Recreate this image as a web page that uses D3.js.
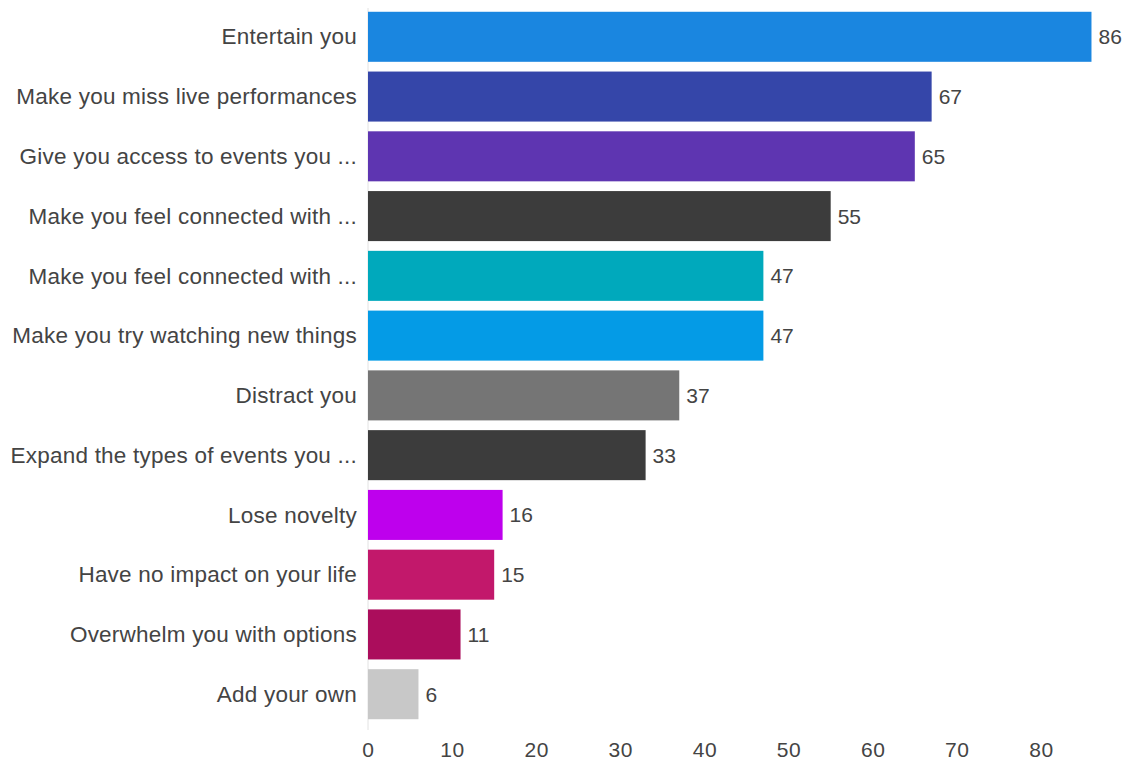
<!DOCTYPE html>
<html>
<head>
<meta charset="utf-8">
<script src="https://cdn.jsdelivr.net/npm/d3@7"></script>
<style>
  html, body { margin: 0; padding: 0; background: #fff; }
  svg text { font-family: "Liberation Sans", Arial, sans-serif; fill: #444; }
</style>
</head>
<body>
<svg id="chart" width="1127" height="762"></svg>
<script>
/* ---------- data ---------- */
const categories = [
  "Entertain you",
  "Make you miss live performances",
  "Give you access to events you ...",
  "Make you feel connected with ...",
  "Make you feel connected with ...",
  "Make you try watching new things",
  "Distract you",
  "Expand the types of events you ...",
  "Lose novelty",
  "Have no impact on your life",
  "Overwhelm you with options",
  "Add your own"
];
const values = [86, 67, 65, 55, 47, 47, 37, 33, 16, 15, 11, 6];
const barColors = [
  "#1a86e0", "#3546a9", "#5e35b1", "#3c3c3c", "#00a9bc", "#049be6",
  "#757575", "#3c3c3c", "#be00ed", "#c2186b", "#ab0d5c", "#c8c8c8"
];
const xTicks = [0, 10, 20, 30, 40, 50, 60, 70, 80];

/* ---------- layout ---------- */
const svg = d3.select("#chart");
const x0 = 368, x80 = 1041;
const labelSize = 22.5, valueSize = 21, tickSize = 21;

const xScale = d3.scaleLinear().domain([0, 80]).range([x0, x80]);
const yScale = d3.scaleBand()
  .domain(d3.range(categories.length))
  .range([7, 724])
  .paddingInner(0.163)
  .paddingOuter(0.08);

// baseline
svg.append("line")
  .attr("x1", x0).attr("x2", x0)
  .attr("y1", 8).attr("y2", 730)
  .style("stroke", "#e2e2e2").style("stroke-width", 1);

/* ---------- bars ---------- */
const rows = svg.append("g").selectAll("g")
  .data(values)
  .join("g");

rows.append("rect")
  .attr("x", x0)
  .attr("y", (d, i) => yScale(i))
  .attr("width", d => xScale(d) - x0)
  .attr("height", yScale.bandwidth())
  .attr("fill", (d, i) => barColors[i]);

rows.append("text")
  .attr("x", d => xScale(d) + 7)
  .attr("y", (d, i) => yScale(i) + yScale.bandwidth() / 2)
  .attr("dy", "0.36em")
  .style("font-size", valueSize + "px")
  .text(d => d);

rows.append("text")
  .attr("x", x0 - 11)
  .attr("y", (d, i) => yScale(i) + yScale.bandwidth() / 2)
  .attr("dy", "0.34em")
  .attr("text-anchor", "end")
  .style("font-size", labelSize + "px")
  .style("letter-spacing", "0.22px")
  .text((d, i) => categories[i]);

/* ---------- x axis ---------- */
const xAxis = d3.axisBottom(xScale).tickValues(xTicks).tickSize(0).tickPadding(0);
const axisG = svg.append("g").attr("transform", "translate(0,742)").call(xAxis);
axisG.select(".domain").remove();
axisG.selectAll("text")
  .attr("dy", "0.71em")
  .style("font-size", tickSize + "px")
  .style("letter-spacing", "0.6px")
  .style("font-family", "\"Liberation Sans\", Arial, sans-serif")
  .style("fill", "#444");
</script>
</body>
</html>
